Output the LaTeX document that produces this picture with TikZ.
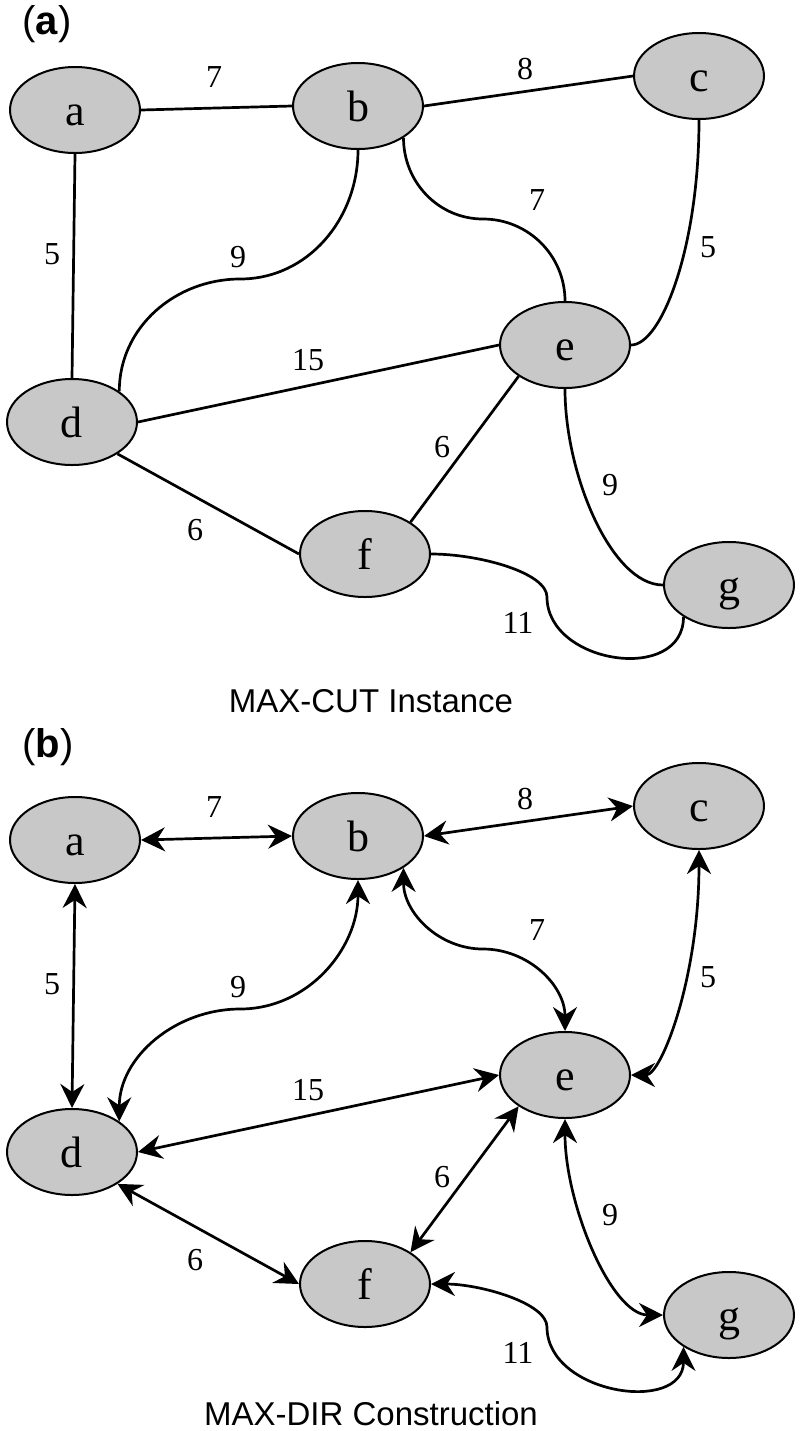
\documentclass[tikz,border=0pt]{standalone}
\usepackage{fontspec}
\setmainfont{Liberation Serif}
\newfontfamily\capfont{Liberation Sans}
\usetikzlibrary{shapes.geometric}
\usetikzlibrary{arrows.meta}
\definecolor{nodegray}{RGB}{200,200,200}

\begin{document}
\begin{tikzpicture}[x=0.5pt,y=0.5pt,
  vertex/.style={ellipse,draw,line width=1pt,fill=nodegray,minimum width=65pt,minimum height=43pt,inner sep=0pt,font=\fontsize{22}{26}\selectfont,text height=15pt,text depth=0pt},
  wlabel/.style={font=\fontsize{16}{19}\selectfont,inner sep=0pt},
  cutline/.style={line width=1.35pt},
  dirline/.style={line width=1.35pt,{Stealth[length=12pt,width=12pt,inset=4pt]}-{Stealth[length=12pt,width=12pt,inset=4pt]}},
  subcap/.style={font=\capfont\fontsize{16.5}{20}\selectfont,inner sep=0pt},
  panel/.style={font=\capfont\fontsize{20}{24}\selectfont,inner sep=0pt}]
  \useasboundingbox (0,0) rectangle (800,-1431);

  % (a) max-cut instance
  \node[panel] (pa) at (47,-24) {(\textbf{a})};

  \node[vertex] (a1) at (75,-110) {a};
  \node[vertex] (b1) at (358,-106) {b};
  \node[vertex] (c1) at (699,-76) {c};
  \node[vertex] (d1) at (72,-422) {d};
  \node[vertex] (e1) at (565,-345) {e};
  \node[vertex] (f1) at (365,-554) {f};
  \node[vertex] (g1) at (729,-585) {g};

  \coordinate (bd1) at (240,-279);
  \coordinate (be1) at (483,-219);
  \coordinate (fg1) at (547,-597);

  \draw[cutline] (a1.east) -- (b1.west);
  \draw[cutline] (b1.east) -- (c1.west);
  \draw[cutline] (a1.south) -- (d1.north);
  \draw[cutline] (b1.south) to[out=-90,in=0] (bd1) to[out=180,in=90] (d1.33);
  \draw[cutline] (b1.-35) to[out=-90,in=180] (be1) to[out=0,in=90] (e1.north);
  \draw[cutline] (c1.south) to[out=-90,in=0,out looseness=1.4,in looseness=0.33] (e1.east);
  \draw[cutline] (d1.east) -- (e1.west);
  \draw[cutline] (d1.-35) -- (f1.west);
  \draw[cutline] (e1.214) -- (f1.35);
  \draw[cutline] (e1.south) to[out=-90,in=180,in looseness=0.6] (g1.west);
  \draw[cutline] (f1.east) to[out=0,in=90,in looseness=0.5] (fg1) to[out=-90,in=-90,looseness=1.25] (g1.215);

  \node[wlabel] (wab1) at (214,-77) {7};
  \node[wlabel] (wbc1) at (525,-69) {8};
  \node[wlabel] (wad1) at (52,-254) {5};
  \node[wlabel] (wbd1) at (238,-257) {9};
  \node[wlabel] (wbe1) at (537,-200) {7};
  \node[wlabel] (wce1) at (708,-247) {5};
  \node[wlabel] (wde1) at (308,-360) {15};
  \node[wlabel] (wdf1) at (195,-530) {6};
  \node[wlabel] (wef1) at (442,-447) {6};
  \node[wlabel] (weg1) at (610,-485) {9};
  \node[wlabel] (wfg1) at (518,-623) {11};

  \node[subcap] (cap1) at (371,-701) {MAX-CUT Instance};

  % (b) max-dir construction
  \node[panel] (pb) at (48,-747) {(\textbf{b})};

  \node[vertex] (a2) at (75,-840) {a};
  \node[vertex] (b2) at (358,-836) {b};
  \node[vertex] (c2) at (699,-806) {c};
  \node[vertex] (d2) at (72,-1152) {d};
  \node[vertex] (e2) at (565,-1075) {e};
  \node[vertex] (f2) at (365,-1284) {f};
  \node[vertex] (g2) at (729,-1315) {g};

  \coordinate (bd2) at (240,-1009);
  \coordinate (be2) at (483,-949);
  \coordinate (fg2) at (547,-1327);

  \draw[dirline] (a2.east) -- (b2.west);
  \draw[dirline] (b2.east) -- (c2.west);
  \draw[dirline] (a2.south) -- (d2.north);
  \draw[dirline] (b2.south) to[out=-90,in=0] (bd2) to[out=180,in=90] (d2.33);
  \draw[dirline] (b2.-35) to[out=-90,in=180] (be2) to[out=0,in=90] (e2.north);
  \draw[dirline] (c2.south) to[out=-90,in=0,out looseness=1.4,in looseness=0.33] (e2.east);
  \draw[dirline] (d2.east) -- (e2.west);
  \draw[dirline] (d2.-35) -- (f2.west);
  \draw[dirline] (e2.214) -- (f2.35);
  \draw[dirline] (e2.south) to[out=-90,in=180,in looseness=0.6] (g2.west);
  \draw[dirline] (f2.east) to[out=0,in=90,in looseness=0.5] (fg2) to[out=-90,in=-90,looseness=1.25] (g2.215);

  \node[wlabel] (wab2) at (214,-807) {7};
  \node[wlabel] (wbc2) at (525,-799) {8};
  \node[wlabel] (wad2) at (52,-984) {5};
  \node[wlabel] (wbd2) at (238,-987) {9};
  \node[wlabel] (wbe2) at (537,-930) {7};
  \node[wlabel] (wce2) at (708,-977) {5};
  \node[wlabel] (wde2) at (308,-1090) {15};
  \node[wlabel] (wdf2) at (195,-1260) {6};
  \node[wlabel] (wef2) at (442,-1177) {6};
  \node[wlabel] (weg2) at (610,-1215) {9};
  \node[wlabel] (wfg2) at (518,-1353) {11};

  \node[subcap] (cap2) at (371,-1414) {MAX-DIR Construction};
\end{tikzpicture}
\end{document}
